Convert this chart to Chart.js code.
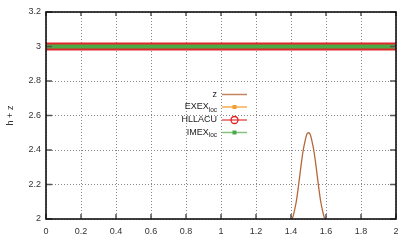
<!DOCTYPE html>
<html><head><meta charset="utf-8">
<script src="https://cdn.jsdelivr.net/npm/chart.js@4"></script>
<style>html,body{margin:0;padding:0;background:#fff}#w{width:407px;height:244px}</style>
</head><body><div id="w"><canvas id="c"></canvas></div>
<script>
// data
const zX = [1.40,1.41,1.42,1.43,1.44,1.45,1.46,1.47,1.48,1.49,1.50,1.51,1.52,1.53,1.54,1.55,1.56,1.57,1.58,1.59,1.60];
const zY = [2.00,2.01,2.05,2.10,2.17,2.25,2.33,2.40,2.45,2.49,2.50,2.49,2.45,2.40,2.33,2.25,2.17,2.10,2.05,2.01,2.00];
const flatX = [0, 0.5, 1, 1.5, 2];
const exexY = [3, 3, 3, 3, 3];
const hllacuY = [3, 3, 3, 3, 3];
const imexY = [3, 3, 3, 3, 3];
const xTicks = [0,0.2,0.4,0.6,0.8,1,1.2,1.4,1.6,1.8,2];
const yTicks = [2,2.2,2.4,2.6,2.8,3,3.2];
const seriesNames = ['z','EXEX','HLLACU','IMEX'];
const seriesSubs = ['','loc','','loc'];

const pts = (xs, ys) => xs.map((x,i)=>({x, y: ys[i]}));
const FONT = 'Liberation Sans, Arial, sans-serif';

const legendPlugin = {
  id: 'gpLegend',
  afterDatasetsDraw(chart) {
    const ctx = chart.ctx;
    const rows = [94.5, 107, 120, 132.5];
    const cols = ['rgba(181,103,58,0.8)','rgba(245,150,40,0.8)','rgba(225,50,50,0.8)','rgba(80,170,70,0.7)'];
    ctx.save();
    rows.forEach((y, i) => {
      ctx.fillStyle = '#222';
      ctx.textBaseline = 'middle';
      ctx.textAlign = 'right';
      let right = 217;
      if (seriesSubs[i]) {
        ctx.font = '6.5px ' + FONT;
        const sw = ctx.measureText(seriesSubs[i]).width;
        ctx.fillText(seriesSubs[i], right, y + 3);
        right -= sw;
      }
      ctx.font = '9px ' + FONT;
      ctx.fillText(seriesNames[i], right, y);
      ctx.strokeStyle = cols[i];
      ctx.lineWidth = 1.5;
      ctx.beginPath(); ctx.moveTo(222, y); ctx.lineTo(247, y); ctx.stroke();
      const mx = 234.5;
      if (i === 1) { ctx.fillStyle = '#f0a030'; ctx.fillRect(mx-2, y-2, 4, 4); }
      if (i === 3) { ctx.fillStyle = '#4aa84a'; ctx.fillRect(mx-2, y-2, 4, 4); }
      if (i === 2) { ctx.strokeStyle = '#e02020'; ctx.lineWidth = 1.3; ctx.beginPath(); ctx.arc(mx, y, 3.5, 0, Math.PI*2); ctx.stroke(); }
    });
    ctx.restore();
  }
};

const framePlugin = {
  id: 'gpFrame',
  afterDraw(chart) {
    const {ctx, chartArea: a, scales} = chart;
    ctx.save();
    ctx.strokeStyle = '#555';
    ctx.lineWidth = 1.5;
    ctx.beginPath();
    xTicks.forEach(v => {
      const px = scales.x.getPixelForValue(v);
      ctx.moveTo(px, a.bottom); ctx.lineTo(px, a.bottom - 5);
      ctx.moveTo(px, a.top); ctx.lineTo(px, a.top + 4);
    });
    yTicks.forEach(v => {
      const py = scales.y.getPixelForValue(v);
      ctx.moveTo(a.left, py); ctx.lineTo(a.left + 6, py);
      ctx.moveTo(a.right, py); ctx.lineTo(a.right - 6, py);
    });
    ctx.stroke();
    ctx.strokeStyle = '#111';
    ctx.lineWidth = 1.6;
    ctx.strokeRect(a.left, a.top, a.right - a.left, a.bottom - a.top);
    ctx.restore();
  }
};

new Chart(document.getElementById('c'), {
  type: 'line',
  data: {
    datasets: [
      { label: 'z', data: pts(zX, zY), borderColor: '#b5673a', borderWidth: 1.3, pointRadius: 0, tension: 0.3, order: 0 },
      { label: 'EXEX', data: pts(flatX, exexY), borderColor: '#f5a030', borderWidth: 4, pointRadius: 0, order: 3 },
      { label: 'HLLACU', data: pts(flatX, hllacuY), borderColor: '#e0262a', borderWidth: 8, pointRadius: 0, order: 2 },
      { label: 'IMEX', data: pts(flatX, imexY), borderColor: '#4cab48', borderWidth: 4, pointRadius: 0, order: 1 }
    ]
  },
  options: {
    responsive: true, maintainAspectRatio: false, animation: false,
    layout: { padding: { left: 0, right: 11, top: 12, bottom: 0 } },
    plugins: { legend: { display: false }, tooltip: { enabled: false } },
    scales: {
      x: {
        type: 'linear', min: 0, max: 2,
        afterBuildTicks: s => { s.ticks = xTicks.map(v => ({value: v})); },
        afterFit: s => { s.height = 25; },
        border: { display: false, dash: [1, 2] },
        grid: { color: '#888', lineWidth: 1, drawTicks: false },
        ticks: { padding: 7, color: '#333', font: { size: 9, family: FONT }, maxRotation: 0,
          callback: v => String(Math.round(v * 10) / 10) }
      },
      y: {
        type: 'linear', min: 2, max: 3.2,
        afterBuildTicks: s => { s.ticks = yTicks.map(v => ({value: v})); },
        afterFit: s => { s.width = 46; },
        border: { display: false, dash: [1, 2] },
        grid: { color: '#888', lineWidth: 1, drawTicks: false },
        title: { display: true, text: 'h + z', color: '#333', font: { size: 9, family: FONT }, padding: { top: 5, bottom: 0 } },
        ticks: { padding: 5, color: '#333', font: { size: 9, family: FONT },
          callback: v => String(Math.round(v * 10) / 10) }
      }
    }
  },
  plugins: [legendPlugin, framePlugin]
});
</script>
</body></html>
